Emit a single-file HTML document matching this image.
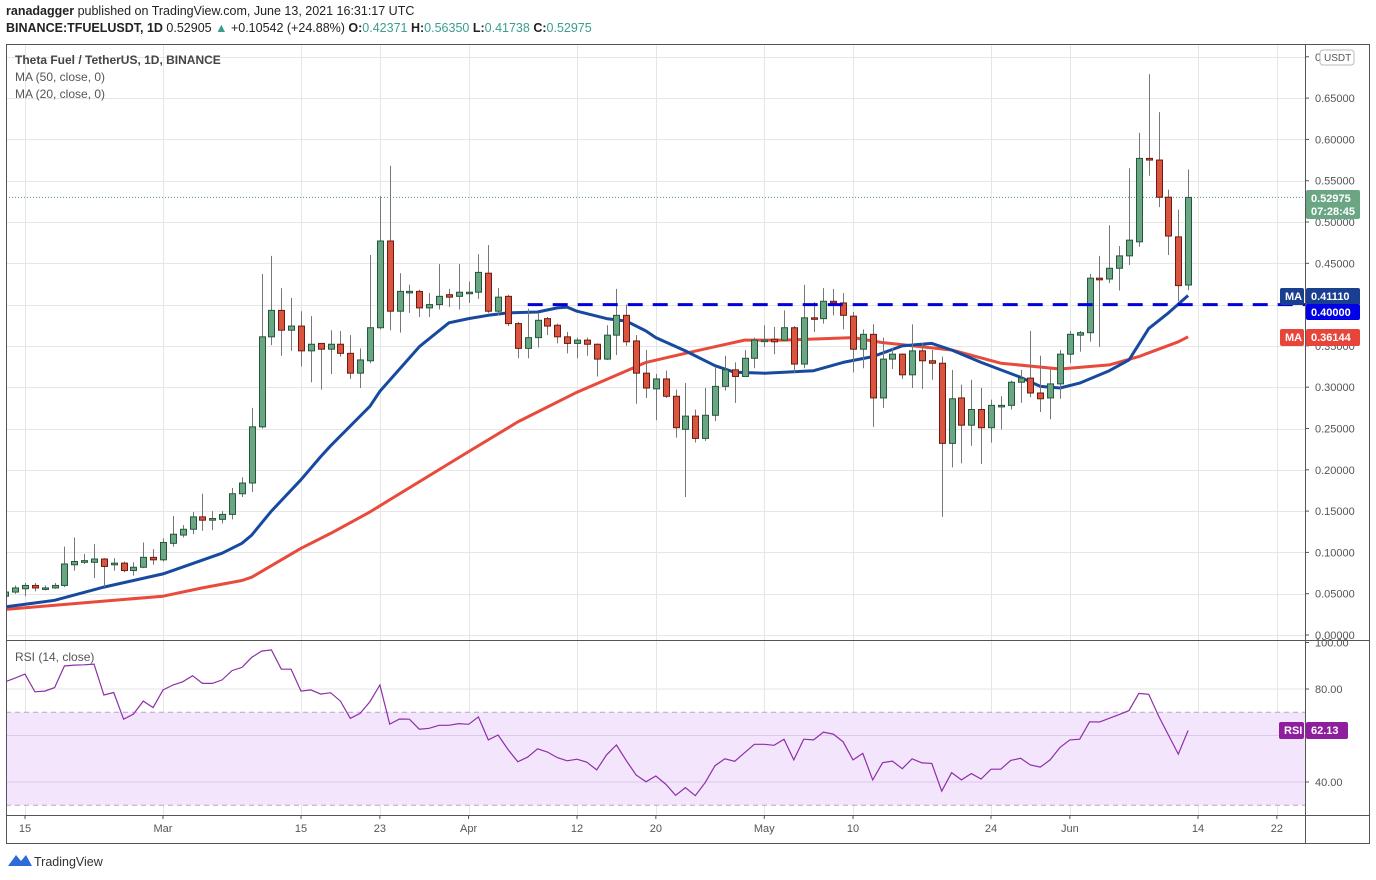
<!DOCTYPE html>
<html><head><meta charset="utf-8">
<style>
body{margin:0;background:#fff;width:1376px;height:880px;overflow:hidden;font-family:"Liberation Sans",sans-serif;}
#hdr1{position:absolute;left:6px;top:4px;font-size:12.5px;color:#222;white-space:nowrap;}
#hdr2{position:absolute;left:6px;top:21px;font-size:12.5px;color:#222;white-space:nowrap;}
.tl{color:#3a9d8f}
svg{position:absolute;left:0;top:0}
</style></head>
<body>
<div id="hdr1"><b>ranadagger</b> published on TradingView.com, June 13, 2021 16:31:17 UTC</div>
<div id="hdr2"><b>BINANCE:TFUELUSDT, 1D</b> 0.52905 <span class="tl">▲</span> +0.10542 (+24.88%) <b>O:</b><span class="tl">0.42371</span> <b>H:</b><span class="tl">0.56350</span> <b>L:</b><span class="tl">0.41738</span> <b>C:</b><span class="tl">0.52975</span></div>
<svg id="chart" width="1376" height="880"></svg>
<script>
// ---- data ----
const firstDay = -2; // Feb 13 relative to Feb 15
const opens = [.047,.052,.056,.060,.057,.057,.060,.085,.088,.088,.092,.085,.087,.078,.082,.094,.091,.111,.121,.128,.143,.139,.140,.146,.171,.184,.252,.361,.393,.369,.374,.344,.353,.346,.352,.341,.317,.332,.372,.477,.392,.416,.416,.396,.400,.412,.410,.415,.415,.438,.392,.410,.377,.347,.360,.383,.375,.361,.353,.357,.352,.334,.363,.387,.356,.317,.298,.310,.289,.249,.265,.238,.266,.301,.321,.313,.335,.357,.358,.357,.372,.328,.384,.383,.404,.402,.386,.346,.364,.287,.334,.340,.315,.344,.332,.329,.232,.287,.254,.273,.251,.277,.278,.306,.311,.293,.287,.304,.340,.363,.366,.432,.431,.444,.459,.476,.577,.575,.530,.482,.4237];
const highs = [.054,.060,.063,.063,.060,.063,.107,.118,.098,.110,.093,.093,.089,.088,.112,.104,.117,.144,.133,.149,.171,.150,.150,.178,.191,.275,.437,.459,.420,.408,.392,.386,.353,.369,.368,.363,.347,.460,.531,.568,.438,.424,.418,.414,.449,.419,.449,.428,.461,.472,.420,.412,.379,.395,.390,.385,.377,.367,.360,.360,.353,.375,.419,.400,.363,.345,.316,.320,.297,.305,.273,.299,.325,.338,.330,.345,.360,.375,.373,.393,.374,.424,.403,.420,.419,.414,.391,.370,.376,.360,.347,.341,.376,.354,.345,.337,.321,.303,.309,.299,.285,.289,.308,.321,.368,.338,.322,.345,.368,.368,.437,.459,.496,.471,.565,.608,.679,.633,.539,.515,.5635];
const lows = [.045,.050,.047,.053,.054,.056,.058,.078,.086,.069,.058,.078,.076,.072,.081,.085,.089,.107,.118,.122,.126,.127,.135,.140,.167,.173,.250,.351,.338,.344,.325,.306,.297,.316,.337,.310,.299,.329,.370,.369,.366,.390,.385,.385,.394,.397,.394,.402,.407,.390,.387,.374,.335,.335,.348,.363,.353,.341,.335,.338,.313,.333,.339,.350,.280,.287,.260,.287,.239,.167,.233,.235,.259,.296,.281,.313,.323,.349,.340,.356,.317,.323,.367,.377,.387,.370,.318,.323,.252,.275,.322,.310,.299,.298,.309,.143,.203,.208,.229,.207,.233,.249,.273,.281,.288,.270,.261,.286,.329,.343,.355,.349,.426,.417,.448,.470,.556,.518,.460,.404,.4174];
const closes = [.052,.057,.060,.057,.057,.060,.086,.089,.090,.092,.083,.087,.078,.082,.094,.091,.112,.122,.128,.143,.139,.141,.146,.171,.184,.252,.361,.393,.369,.374,.344,.352,.346,.352,.341,.317,.333,.372,.477,.392,.416,.416,.396,.400,.410,.409,.415,.415,.439,.392,.409,.377,.347,.360,.381,.374,.361,.353,.357,.352,.334,.363,.387,.355,.317,.299,.310,.289,.251,.265,.238,.266,.301,.321,.313,.335,.357,.357,.355,.372,.328,.384,.383,.404,.402,.387,.346,.364,.287,.334,.340,.315,.344,.332,.329,.232,.286,.254,.273,.251,.278,.278,.306,.311,.293,.286,.304,.340,.364,.366,.432,.430,.444,.459,.478,.577,.575,.530,.483,.423,.52975];
const ma20Days = [-2,3,8,14,20,22,23,25,28,30,31,35,36,40,43,45,47,49,52,54,55,56,59,61,63,64,67,70,72,75,80,83,86,89,92,94,97,101,103,105,107,110,112,114,116,118];
const ma20Vals = [.034,.042,.058,.074,.099,.111,.121,.150,.188,.216,.229,.277,.295,.349,.378,.383,.387,.390,.391,.396,.397,.392,.383,.380,.368,.360,.344,.326,.318,.317,.320,.330,.337,.350,.353,.345,.330,.312,.301,.299,.305,.320,.333,.371,.390,.411];
const ma50Days = [-2,8,14,18,22,23,28,31,35,45,50,56,63,67,70,73,77,84,87,94,99,105,110,113,117,118];
const ma50Vals = [.031,.041,.047,.057,.066,.070,.105,.123,.149,.222,.258,.294,.330,.341,.349,.357,.357,.360,.354,.345,.329,.322,.327,.337,.355,.361];
const rsiVals = [83.1,84.7,86.4,78.8,79.1,80.6,89.9,90.3,90.4,90.7,77.4,78.5,67,69.2,74.8,72,79.6,81.7,83.1,85.7,82.4,82.4,83.9,87.9,89.3,93.6,96.3,96.8,88.5,88.5,79.1,79.6,77.8,78.4,74.8,67.4,69.5,74.6,81.7,64.9,67.1,67,62.7,63.1,64.4,64.4,65.1,64.8,68,58.1,60.2,54,48.7,50.7,54.3,52.9,50.5,49.1,49.8,48.5,45.2,51.7,55.9,49.2,43,40.1,42.6,39.1,34.3,37.6,34.1,39.7,47,50,48.9,52.6,56.2,56.2,55.8,58.4,49.5,58.4,58.1,61.4,60.6,57.3,49.5,52.3,40.9,48.3,49,45.7,50,48.2,48,36.1,44,40.9,43.6,41.3,45.5,45.5,49.3,50.2,47.3,46.4,49.5,54.9,58.1,58.4,65.9,65.8,67.4,69,70.7,78.1,77.7,68.4,60.2,52,62.13];
const priceTicks = [0,0.05,0.10,0.15,0.20,0.25,0.30,0.35,0.40,0.45,0.50,0.55,0.60,0.65,0.70];
const rsiTicks = [40,80,100];
const dateTicks = [0,14,28,36,45,56,64,75,84,98,106,119,127];
const dateLabels = ["15","Mar","15","23","Apr","12","20","May","10","24","Jun","14","22"];
const supportLevel = 0.40, supportStartDay = 51;
const lastPrice = 0.52975;

// ---- scales ----
const xOf = d => 25 + d*9.857;
const yP = v => 635 - v*826;
const yR = v => 689 - (v-80)*2.325;
const L=6,R=1305,T=44,PB=640,RB=815,B=843,FR=1369;
const NS='http://www.w3.org/2000/svg';
const svg=document.getElementById('chart');
function mk(tag,attrs,parent){const e=document.createElementNS(NS,tag);for(const k in attrs)e.setAttribute(k,attrs[k]);(parent||svg).appendChild(e);return e;}

const defs=mk('defs',{});
const cp=mk('clipPath',{id:'cpMain'},defs); mk('rect',{x:L,y:T,width:R-L,height:PB-T},cp);
const cr=mk('clipPath',{id:'cpRsi'},defs); mk('rect',{x:L,y:PB,width:R-L,height:RB-PB},cr);

// gridlines
const grid=mk('g',{stroke:'#e6e6e6','stroke-width':1});


priceTicks.forEach(v=>{const y=Math.round(yP(v))+.5;if(y>T&&y<PB)mk('line',{x1:L,x2:R,y1:y,y2:y},grid);});
dateTicks.forEach(d=>{const x=Math.round(xOf(d))+.5;if(x<R){mk('line',{x1:x,x2:x,y1:T,y2:RB},grid);}});

// RSI band
const band=mk('rect',{x:L,y:yR(70),width:R-L,height:yR(30)-yR(70),fill:'#f3e5fc'});


[80,60,40].forEach(v=>{const gl=mk('line',{x1:L,x2:R,y1:yR(v),y2:yR(v),stroke:v==80?'#e6e6e6':'#dcc8ea'});});
[70,30].forEach(v=>{const dl=mk('line',{x1:L,x2:R,y1:yR(v),y2:yR(v),stroke:'#b7a6c6','stroke-dasharray':'5,4'});});

// last price dotted line
const lp=mk('line',{x1:L,x2:R,y1:yP(lastPrice),y2:yP(lastPrice),stroke:'#5b9c86','stroke-dasharray':'1,2'});



// MAs
function maPath(days,vals){return days.map((d,i)=>(i?'L':'M')+xOf(d).toFixed(1)+','+yP(vals[i]).toFixed(1)).join('');}
const m50=mk('path',{d:maPath(ma50Days,ma50Vals),fill:'none',stroke:'#e84a3c','stroke-width':3,'clip-path':'url(#cpMain)','stroke-linejoin':'round'});


const m20=mk('path',{d:maPath(ma20Days,ma20Vals),fill:'none',stroke:'#174a9e','stroke-width':3,'clip-path':'url(#cpMain)','stroke-linejoin':'round'});



// candles
const cg=mk('g',{'clip-path':'url(#cpMain)'});


closes.forEach((c,i)=>{
  const d=firstDay+i, x=Math.round(xOf(d)), o=opens[i], up=c>=o;
  const w=mk('line',{x1:x+.5,x2:x+.5,y1:yP(highs[i]),y2:yP(lows[i]),stroke:'#777','stroke-width':1},cg);
  
  
  const top=yP(Math.max(o,c)), h=Math.max(1.5,Math.abs(yP(o)-yP(c)));
  const b=mk('rect',{x:x-2.5,y:top,width:6,height:h,fill:up?'#6aa584':'#d9553f',stroke:up?'#24583a':'#6e1a10','stroke-width':1},cg);
  
  
});

// support dashed line
const sl=mk('line',{x1:xOf(supportStartDay),x2:R,y1:yP(supportLevel),y2:yP(supportLevel),stroke:'#0000dd','stroke-width':3,'stroke-dasharray':'15,10'});



// RSI line
const rp=rsiVals.map((v,i)=>(i?'L':'M')+xOf(firstDay+i).toFixed(1)+','+yR(v).toFixed(1)).join('');
const rl=mk('path',{d:rp,fill:'none',stroke:'#8e2fa8','stroke-width':1.2,'clip-path':'url(#cpRsi)'});



// frames
const fr=mk('g',{stroke:'#555',fill:'none','stroke-width':1});


mk('rect',{x:L+.5,y:T+.5,width:FR-L,height:B-T},fr);
mk('line',{x1:R+.5,x2:R+.5,y1:T,y2:B},fr);
mk('line',{x1:L,x2:FR,y1:PB+.5,y2:PB+.5},fr);
mk('line',{x1:L,x2:FR,y1:RB+.5,y2:RB+.5},fr);

// price axis labels
function txt(s,x,y,opt){const t=mk('text',Object.assign({x:x,y:y,'font-size':11,fill:'#555','font-family':'Liberation Sans, sans-serif'},opt||{}));t.textContent=s;return t;}
priceTicks.forEach(v=>{const y=yP(v);if(y<T||y>PB+3)return;
  mk('line',{x1:R,x2:R+4,y1:y,y2:y,stroke:'#555'});
  const t=txt(v.toFixed(5),R+10,y+4);
  
  });
rsiTicks.forEach(v=>{const y=yR(v);
  mk('line',{x1:R,x2:R+4,y1:y,y2:y,stroke:'#555'});
  const t=txt(v.toFixed(2),R+10,y+4);
  
  });
// USDT badge
const ub=mk('rect',{x:1320,y:50,width:34,height:15,rx:3,fill:'#fff',stroke:'#bbb'});


txt('USDT',1324,61,{'font-size':10});

// date labels
dateTicks.forEach((d,i)=>{const x=xOf(d);if(x>R)return;
  mk('line',{x1:x,x2:x,y1:RB,y2:RB+4,stroke:'#555'});
  const t=txt(dateLabels[i],x,832,{'text-anchor':'middle'});
  
  });

// value boxes
function box(name,x,y,w,h,fill,lines,bold){const g=mk('g',{});
  mk('rect',{x:x,y:y,width:w,height:h,rx:2,fill:fill},g);
  lines.forEach((s,i)=>{const t=mk('text',{x:x+5,y:y+12+i*13,'font-size':11,'font-weight':bold?'bold':'normal',fill:'#fff','font-family':'Liberation Sans, sans-serif'},g);t.textContent=s;});return g;}
box('last-price-tag',1306,190,54,29,'#6aa584',['0.52975','07:28:45'],true);
box('ma20-tag',1280,288,24,17,'#1a3f91',['MA'],true);
box('ma20-value-tag',1306,288,54,17,'#1a3f91',['0.41110'],true);
box('support-value-tag',1306,304,54,16,'#0000e6',['0.40000'],true);
box('ma50-tag',1280,329,24,17,'#e8453a',['MA'],true);
box('ma50-value-tag',1306,329,54,17,'#e8453a',['0.36144'],true);
box('rsi-tag',1279,722,25,17,'#8e1e9e',['RSI'],true);
box('rsi-value-tag',1306,722,42,17,'#8e1e9e',['62.13'],true);

// legend texts
[['Theta Fuel / TetherUS, 1D, BINANCE',64,'bold','#444','legend-title'],['MA (50, close, 0)',81,'normal','#555','legend-ma50'],['MA (20, close, 0)',98,'normal','#555','legend-ma20']].forEach(a=>{
  const t=txt(a[0],15,a[1],{'font-size':12,'font-weight':a[2],fill:a[3]});
  
  });
const rt=txt('RSI (14, close)',15,661,{'font-size':12});



// TradingView logo
const lg=mk('g',{});


mk('path',{d:'M8,866 L16,855 L21,861 L26,855 L32,866 Z',fill:'#2d6bd9'},lg);
const lt=mk('text',{x:34,y:866,'font-size':12.5,fill:'#333','font-family':'Liberation Sans, sans-serif'},lg);
lt.textContent='TradingView';
</script>
</body></html>
